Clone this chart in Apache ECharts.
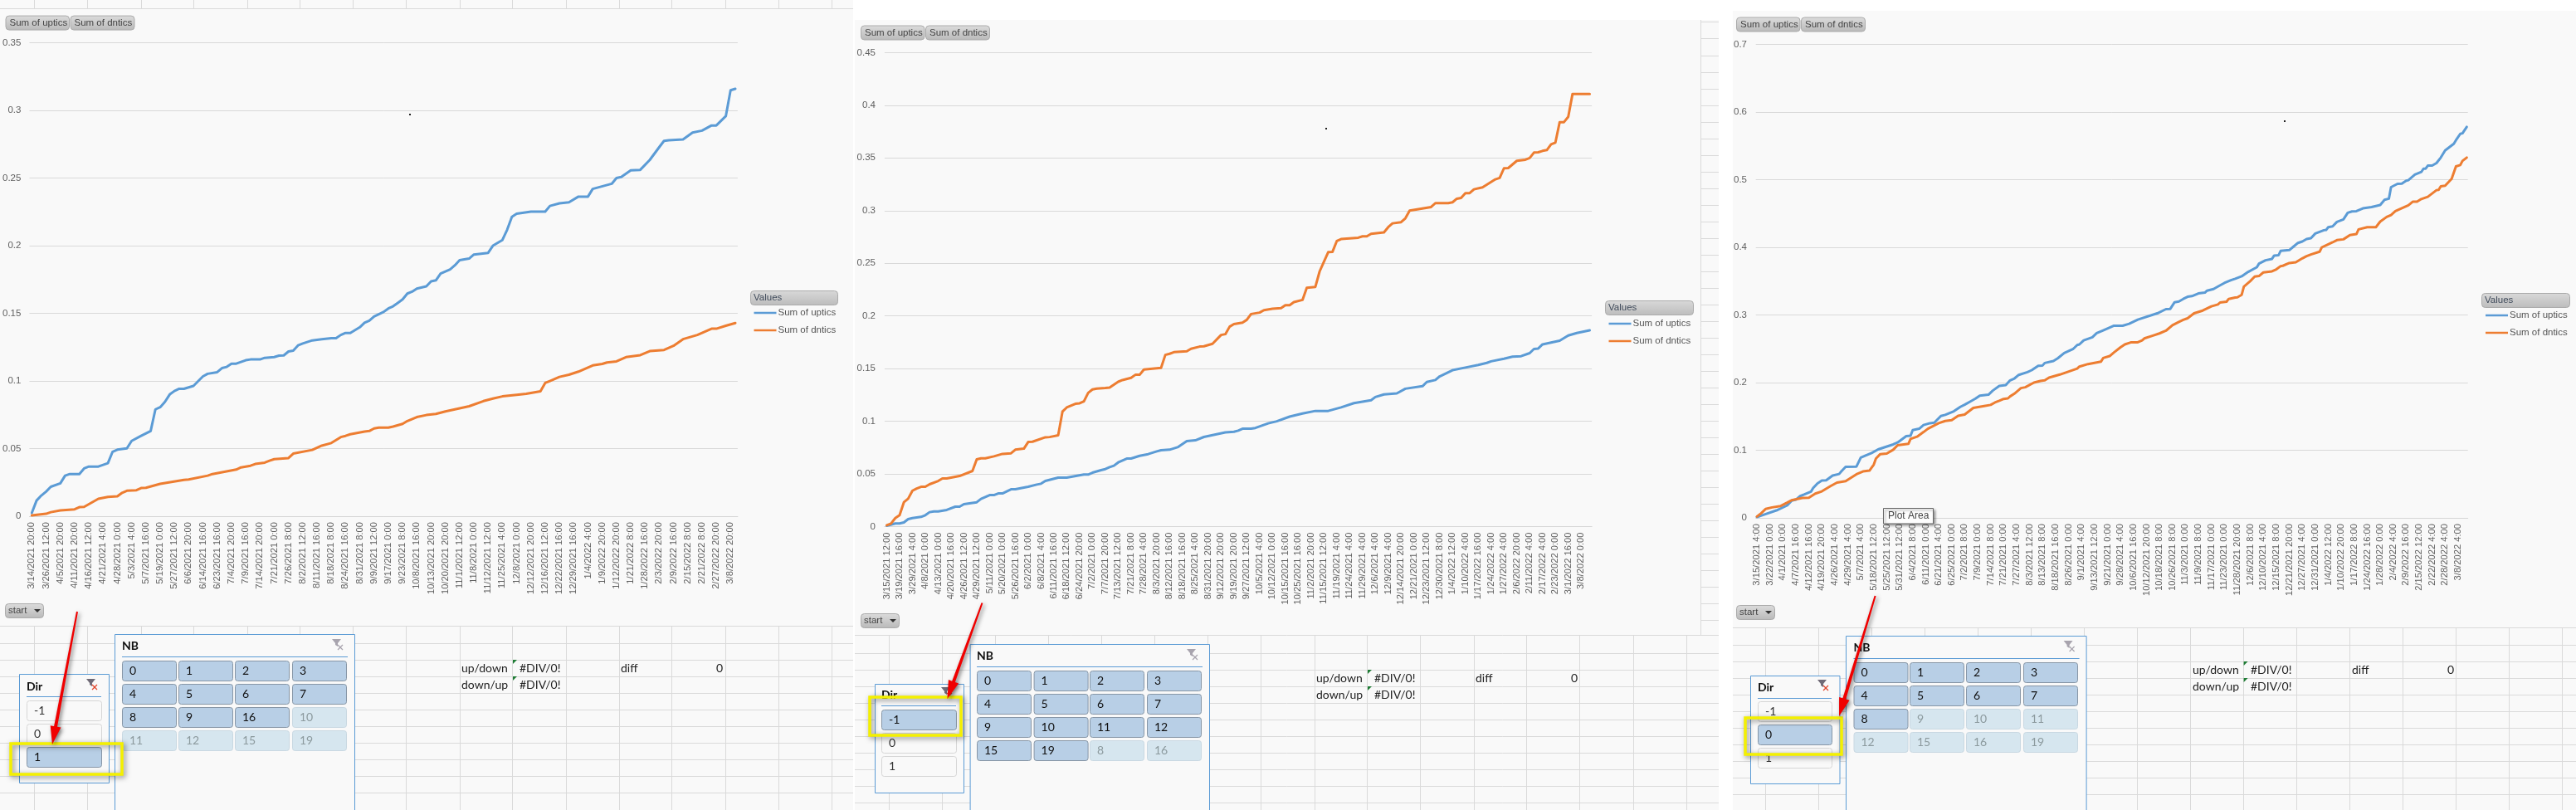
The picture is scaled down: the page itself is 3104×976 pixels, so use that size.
<!DOCTYPE html>
<html><head><meta charset="utf-8">
<style>html,body{margin:0;padding:0;background:#fff}#c{width:3104px;height:976px}</style>
<script src="https://cdn.jsdelivr.net/npm/echarts@6/dist/echarts.min.js"></script>
</head><body><div id="c"></div>
<script>
// ---------- DATA: tick labels (one every few categories) ----------
const ticks1 = ["3/14/2021 20:00","3/26/2021 12:00","4/5/2021 20:00","4/11/2021 20:00","4/16/2021 12:00","4/21/2021 4:00","4/28/2021 0:00","5/3/2021 4:00","5/7/2021 16:00","5/19/2021 0:00","5/27/2021 12:00","6/6/2021 20:00","6/14/2021 16:00","6/23/2021 16:00","7/4/2021 20:00","7/9/2021 16:00","7/14/2021 20:00","7/21/2021 0:00","7/26/2021 8:00","8/2/2021 12:00","8/11/2021 16:00","8/18/2021 8:00","8/24/2021 16:00","8/31/2021 8:00","9/9/2021 12:00","9/17/2021 0:00","9/23/2021 8:00","10/8/2021 16:00","10/13/2021 20:00","10/20/2021 20:00","11/1/2021 12:00","11/8/2021 0:00","11/12/2021 12:00","11/25/2021 4:00","12/8/2021 0:00","12/12/2021 20:00","12/16/2021 12:00","12/22/2021 16:00","12/29/2021 16:00","1/4/2022 4:00","1/9/2022 20:00","1/12/2022 20:00","1/21/2022 8:00","1/28/2022 16:00","2/3/2022 20:00","2/9/2022 16:00","2/15/2022 8:00","2/21/2022 8:00","2/27/2022 20:00","3/8/2022 20:00"];
const ticks2 = ["3/15/2021 12:00","3/19/2021 16:00","3/29/2021 4:00","4/8/2021 0:00","4/13/2021 0:00","4/20/2021 16:00","4/26/2021 12:00","4/29/2021 12:00","5/11/2021 0:00","5/20/2021 0:00","5/26/2021 16:00","6/2/2021 0:00","6/8/2021 4:00","6/11/2021 16:00","6/18/2021 12:00","6/24/2021 20:00","7/2/2021 0:00","7/7/2021 20:00","7/13/2021 12:00","7/21/2021 8:00","7/28/2021 4:00","8/3/2021 20:00","8/12/2021 16:00","8/18/2021 16:00","8/25/2021 4:00","8/31/2021 20:00","9/12/2021 20:00","9/19/2021 20:00","9/27/2021 12:00","10/5/2021 4:00","10/12/2021 0:00","10/15/2021 16:00","10/25/2021 16:00","11/2/2021 20:00","11/15/2021 12:00","11/19/2021 4:00","11/24/2021 4:00","11/29/2021 4:00","12/6/2021 4:00","12/9/2021 4:00","12/14/2021 20:00","12/21/2021 0:00","12/23/2021 12:00","12/30/2021 8:00","1/4/2022 12:00","1/10/2022 4:00","1/17/2022 16:00","1/24/2022 4:00","1/27/2022 4:00","2/6/2022 20:00","2/11/2022 4:00","2/17/2022 4:00","2/23/2022 0:00","3/1/2022 16:00","3/8/2022 0:00"];
const ticks3 = ["3/15/2021 4:00","3/22/2021 0:00","4/1/2021 0:00","4/7/2021 16:00","4/12/2021 16:00","4/19/2021 20:00","4/26/2021 4:00","4/29/2021 4:00","5/7/2021 4:00","5/18/2021 12:00","5/25/2021 12:00","5/31/2021 12:00","6/4/2021 8:00","6/11/2021 0:00","6/21/2021 4:00","6/25/2021 0:00","7/2/2021 8:00","7/9/2021 0:00","7/14/2021 8:00","7/21/2021 0:00","7/27/2021 4:00","8/3/2021 12:00","8/13/2021 8:00","8/18/2021 16:00","8/26/2021 0:00","9/1/2021 4:00","9/13/2021 12:00","9/21/2021 0:00","9/28/2021 4:00","10/6/2021 16:00","10/12/2021 20:00","10/18/2021 8:00","10/26/2021 8:00","11/3/2021 0:00","11/9/2021 8:00","11/17/2021 0:00","11/23/2021 0:00","11/28/2021 20:00","12/6/2021 8:00","12/10/2021 4:00","12/15/2021 8:00","12/21/2021 20:00","12/27/2021 4:00","12/31/2021 0:00","1/4/2022 12:00","1/10/2022 20:00","1/17/2022 8:00","1/24/2022 16:00","1/28/2022 0:00","2/4/2022 4:00","2/9/2022 16:00","2/15/2022 12:00","2/22/2022 4:00","2/28/2022 4:00","3/8/2022 4:00"];

// ---------- DATA: traced series, as [category number, value] ----------
const up1 = [[0,.0024],[1,.0116],[2,.0153],[3,.0182],[4,.0218],[6,.0243],[7,.030],[8,.0312],[10,.0312],[11,.0353],[12,.0367],[14,.0367],[16,.0392],[17,.0477],[18,.0492],[20,.0502],[21,.0557],[23,.0594],[25,.063],[26,.079],[27,.0806],[28,.0845],[29,.09],[30,.0926],[31,.0942],[32,.0942],[34,.0963],[36,.1034],[37,.1053],[39,.1065],[40,.1095],[41,.1104],[42,.1128],[43,.1128],[45,.1153],[46,.1159],[48,.1159],[49,.1171],[51,.1177],[52,.1187],[53,.1189],[54,.1218],[55,.1224],[56,.1263],[57,.1277],[59,.13],[61,.1308],[63,.1316],[64,.1316],[65,.134],[66,.1355],[67,.1355],[69,.1397],[70,.143],[71,.1446],[72,.1477],[74,.151],[75,.1536],[76,.1552],[77,.1577],[78,.1603],[79,.1646],[80,.166],[81,.1683],[83,.170],[84,.1737],[85,.1744],[86,.1794],[88,.1825],[89,.1855],[90,.1893],[92,.1905],[93,.1935],[96,.1947],[97,.20],[99,.2042],[100,.2118],[101,.2214],[102,.2237],[105,.2252],[108,.2252],[109,.2294],[111,.2313],[113,.2321],[115,.2363],[117,.2363],[118,.242],[122,.2458],[123,.25],[124,.2508],[126,.2557],[128,.2561],[130,.2634],[132,.2729],[133,.2775],[134,.2779],[137,.2786],[139,.2836],[141,.2851],[143,.2889],[144,.2889],[146,.2958],[147,.3149],[148,.316]];
const dn1 = [[0,.0006],[3,.0018],[4,.003],[6,.0043],[9,.0051],[10,.0067],[11,.0069],[14,.0129],[16,.0143],[18,.0147],[19,.0173],[20,.0188],[22,.0192],[23,.0208],[24,.021],[27,.0239],[32,.0269],[33,.0271],[37,.03],[38,.0312],[43,.0345],[44,.0361],[46,.0373],[47,.0386],[49,.0396],[50,.041],[51,.0422],[54,.043],[55,.0463],[59,.049],[61,.0522],[63,.0541],[65,.0585],[66,.0594],[67,.0606],[70,.0626],[71,.063],[72,.0649],[73,.0655],[75,.0655],[76,.0663],[78,.0683],[79,.0704],[81,.0733],[83,.0748],[85,.0756],[87,.0775],[89,.079],[92,.0813],[95,.0851],[97,.087],[99,.0886],[102,.0897],[104,.0905],[107,.0924],[108,.0985],[109,.1],[111,.103],[113,.1046],[115,.1069],[118,.1115],[120,.1126],[121,.1137],[123,.1145],[125,.1176],[128,.1191],[130,.1221],[133,.1229],[135,.126],[137,.1309],[140,.134],[141,.1355],[143,.1386],[144,.1386],[146,.1408],[148,.1428]];
const up2 = [[0,.0008],[2,.0029],[3,.0029],[4,.0039],[5,.0071],[6,.0081],[8,.0092],[9,.0108],[10,.0137],[11,.0144],[12,.0144],[14,.0158],[16,.0189],[17,.0189],[18,.0213],[21,.0231],[22,.0263],[24,.0299],[25,.0299],[26,.0315],[27,.0315],[29,.0354],[30,.0354],[33,.0378],[35,.0399],[36,.0407],[37,.0433],[40,.0465],[42,.0465],[46,.0494],[47,.0494],[48,.0512],[50,.0536],[51,.0546],[52,.0564],[53,.0578],[54,.0609],[56,.0646],[57,.0646],[59,.0672],[61,.0688],[63,.0714],[64,.0725],[66,.073],[68,.0756],[70,.0811],[71,.0816],[72,.0819],[74,.0851],[79,.0895],[81,.09],[82,.0911],[83,.0929],[85,.0929],[86,.0936],[89,.098],[91,.1],[94,.1044],[97,.1074],[100,.1098],[103,.1098],[106,.1132],[109,.1172],[113,.12],[114,.123],[116,.1255],[119,.1265],[121,.1309],[125,.1333],[126,.1373],[128,.1392],[129,.1426],[132,.1485],[135,.151],[138,.1534],[140,.1554],[141,.1569],[144,.1593],[146,.1613],[148,.1618],[150,.1647],[151,.1686],[152,.1691],[153,.173],[157,.1765],[159,.1814],[161,.1838],[164,.1863]];
const dn2 = [[0,.0013],[1,.0029],[2,.0081],[3,.0108],[4,.0231],[5,.0265],[6,.0341],[7,.0362],[8,.0378],[9,.0378],[10,.0402],[12,.0433],[13,.0457],[14,.0457],[17,.048],[20,.0528],[21,.0638],[22,.0648],[23,.0648],[25,.0667],[27,.069],[29,.0696],[30,.073],[32,.074],[33,.0803],[34,.0806],[37,.0848],[38,.085],[40,.0866],[41,.1092],[42,.1131],[44,.1166],[45,.1171],[46,.1189],[47,.127],[48,.1302],[49,.131],[51,.1315],[52,.132],[54,.1375],[55,.1391],[57,.1412],[58,.1441],[59,.1441],[60,.1491],[62,.1499],[64,.1507],[65,.163],[66,.1641],[67,.1656],[70,.1664],[71,.1688],[73,.1709],[74,.1712],[76,.1735],[78,.1819],[79,.1827],[80,.1898],[81,.1922],[83,.1937],[84,.1963],[85,.2018],[87,.2032],[88,.2055],[90,.2068],[92,.2074],[93,.2102],[94,.2102],[95,.2131],[97,.2152],[98,.2268],[100,.2276],[101,.2423],[102,.2515],[103,.2606],[104,.2609],[105,.2711],[106,.273],[110,.2743],[111,.2756],[112,.2756],[113,.278],[116,.2793],[117,.2843],[118,.2879],[120,.289],[121,.2927],[122,.3],[127,.3034],[128,.3071],[131,.3071],[132,.3079],[133,.3113],[134,.3121],[135,.3166],[136,.3166],[137,.3202],[139,.3221],[142,.3297],[143,.331],[144,.3402],[145,.3404],[147,.3473],[149,.3483],[150,.3499],[151,.3551],[152,.3554],[153,.3567],[154,.3575],[155,.363],[156,.3646],[157,.384],[158,.384],[159,.389],[160,.4108],[164,.4108]];
const up3 = [[0,.0012],[3,.0045],[9,.011],[14,.0184],[16,.0253],[18,.0269],[20,.0322],[22,.0347],[25,.0388],[26,.0441],[28,.051],[30,.0551],[32,.0555],[35,.0625],[38,.0649],[39,.0686],[41,.0755],[46,.0759],[48,.089],[50,.0918],[53,.0959],[56,.1012],[63,.1086],[65,.1114],[69,.1208],[71,.1216],[72,.1298],[75,.1318],[77,.1372],[80,.14],[82,.1408],[85,.1506],[87,.1523],[91,.1576],[94,.1641],[96,.1674],[99,.1727],[101,.1763],[103,.1808],[107,.1821],[109,.1882],[112,.1951],[115,.1963],[117,.2033],[119,.2061],[121,.2114],[125,.2155],[127,.2184],[130,.2249],[132,.2253],[133,.229],[137,.2319],[139,.2359],[142,.2437],[146,.2494],[148,.2555],[149,.2564],[151,.2625],[155,.267],[157,.2731],[160,.2772],[165,.2841],[169,.2841],[172,.2869],[176,.2931],[185,.3024],[189,.3086],[191,.309],[193,.3188],[195,.32],[197,.3237],[199,.3269],[201,.3278],[204,.3318],[207,.3331],[208,.3359],[211,.3384],[213,.342],[216,.3473],[219,.3514],[221,.3535],[224,.3571],[227,.3637],[231,.3706],[232,.3759],[235,.3808],[238,.3829],[239,.3878],[241,.3882],[242,.3947],[246,.3959],[248,.4012],[250,.4065],[252,.4086],[254,.4122],[256,.4135],[258,.4204],[262,.4253],[263,.4257],[264,.4298],[266,.431],[268,.4376],[271,.4412],[273,.451],[275,.4531],[277,.4535],[280,.4576],[284,.4596],[288,.4625],[290,.4702],[292,.4719],[293,.489],[296,.4939],[298,.4943],[300,.4984],[301,.4992],[304,.5074],[307,.5114],[308,.5163],[309,.5163],[310,.5208],[312,.5208],[314,.5245],[316,.5327],[318,.5433],[322,.5531],[323,.5584],[325,.5678],[326,.5686],[328,.578]];
const dn3 = [[0,.002],[2,.0069],[4,.0131],[7,.0155],[11,.0176],[14,.0225],[16,.0261],[21,.0294],[24,.0298],[27,.0359],[30,.0392],[34,.0469],[37,.0522],[41,.0543],[46,.0645],[49,.0686],[52,.0698],[54,.0788],[55,.0878],[57,.0943],[60,.0951],[63,.1008],[65,.1074],[70,.1094],[71,.1167],[74,.12],[77,.1269],[79,.1318],[84,.14],[87,.1433],[90,.1445],[93,.151],[96,.1527],[98,.1576],[100,.1625],[105,.1653],[108,.167],[110,.1706],[112,.1731],[114,.1759],[116,.1767],[117,.1796],[119,.1837],[122,.1919],[124,.1931],[128,.2],[131,.2025],[133,.2033],[135,.2074],[140,.2119],[148,.2208],[149,.2237],[153,.2274],[159,.2311],[160,.2363],[163,.2392],[165,.2447],[168,.2522],[170,.2565],[173,.2596],[176,.2596],[178,.2624],[179,.2653],[183,.2694],[186,.2727],[189,.2767],[192,.2849],[195,.2898],[197,.2927],[199,.2951],[202,.3024],[206,.3065],[210,.3127],[213,.3155],[214,.3184],[217,.3196],[218,.3237],[221,.3257],[222,.3261],[224,.3298],[225,.342],[228,.3502],[230,.3567],[232,.3576],[234,.3629],[238,.3645],[240,.3674],[242,.3722],[243,.3727],[246,.3767],[249,.378],[252,.3837],[254,.3869],[256,.3894],[260,.3935],[261,.4],[263,.4029],[266,.4074],[268,.4106],[271,.4118],[274,.418],[277,.4196],[278,.4265],[282,.4298],[286,.4298],[288,.438],[291,.4449],[293,.4478],[295,.4535],[301,.4621],[303,.4674],[305,.4674],[307,.4714],[310,.4747],[312,.4796],[314,.4845],[315,.4849],[316,.4902],[318,.491],[321,.5012],[323,.5196],[325,.5216],[326,.5278],[328,.5327]];

// ---------- DATA: slicer contents ----------
const dirItems = ["-1","0","1"];
const nbItems1 = ["0","1","2","3","4","5","6","7","8","9","16","10","11","12","15","19"];
const nbActive1 = 11;
const nbItems2 = ["0","1","2","3","4","5","6","7","9","10","11","12","15","19","8","16"];
const nbActive2 = 14;
const nbItems3 = ["0","1","2","3","4","5","6","7","8","9","10","11","12","15","16","19"];
const nbActive3 = 9;
const seriesNames = ["Sum of uptics","Sum of dntics"];
const C_UP = "#5b9bd5", C_DN = "#ed7d31";

// ---------- LAYOUT ----------
const FONT = '"Liberation Sans"', SFONT = 'Lato';
const panels = [
 {ticks:ticks1,up:up1,dn:dn1,perTick:3,n:149,left:35.1,width:853.8,top:51.6,bottom:622,ymax:.35,step:.05,yLabelEnd:25,
  sumBtn:[6.5,18.6],startBtn:[6,727],legendBox:[904,350,105],swatch:[908.5,371],
  dot:[493,137],dir:{box:[23,812,108,131],titleY:827,ul:839,x:32,w:90,rows:[844,872,900],sel:2},
  nb:{box:[138,764,289],titleY:778,ul:791,cols:[147,215,283,352],w:65,rows:[796,824,852,880],items:nbItems1,active:nbActive1},
  yellow:[13,896,134,37],arrow:[[93,737],[63,897]],
  txt:{x1:556,x2:626,x3:748,x4:871,y1:805,y2:825,tri:618},
  hl:[10,754,774.5,794.5,815,835,855,875,895,915,935,955],vl:[41,105,170,233,298,361,425,489,554,617,682,746,809,874,938,1002],xr:1028},
 {ticks:ticks2,up:up2,dn:dn2,perTick:3,n:165,left:1065.9,width:852.2,top:63.4,bottom:634.5,ymax:.45,step:.05,yLabelEnd:1055,
  sumBtn:[1037,30.5],startBtn:[1037,739],legendBox:[1934,362,106],swatch:[1938.5,384],
  dot:[1597,154],dir:{box:[1054,824,107,131],titleY:837,ul:850,x:1062,w:90,rows:[855,883,911],sel:0},
  nb:{box:[1168.6,776,288.4],titleY:790,ul:803,cols:[1177,1245.6,1313,1382],w:65,rows:[808,836,864,892],items:nbItems2,active:nbActive2},
  yellow:[1048,840,110,46],arrow:[[1183.5,726.5],[1141.5,842]],
  txt:{x1:1586,x2:1656,x3:1778,x4:1901,y1:817,y2:837,tri:1648},
  hl:[765,787,807,827,847,867,887,907,927,947,967],vl:[1071,1135,1199,1263,1327,1391,1455,1519,1584,1647,1711,1776,1839,1903,1968,2032],xr:2071},
 {ticks:ticks3,up:up3,dn:dn3,perTick:6,n:329,left:2115.7,width:858,top:53.5,bottom:624,ymax:.7,step:.1,yLabelEnd:2105,
  sumBtn:[2092,20.5],startBtn:[2092,729],legendBox:[2990,353,106],swatch:[2995,374],
  dot:[2752,145],dir:{box:[2109,814,107.5,130],titleY:828,ul:841,x:2118,w:89,rows:[845,873,901],sel:1},
  nb:{box:[2224,766,289.6],titleY:780,ul:793,cols:[2233.5,2301,2369,2438],w:65,rows:[798,826,854,882],items:nbItems3,active:nbActive3},
  yellow:[2103,865,116,44],arrow:[[2259.6,718],[2216,863]],
  txt:{x1:2642,x2:2712,x3:2834,x4:2957,y1:807,y2:827,tri:2703.6},
  hl:[756,777,797,817,837,857,877,897,917,937,957],vl:[2127,2191,2255,2319,2383,2447,2511,2575,2639,2703,2767,2831,2895,2959,3023,3087],xr:3104},
];

// ---------- graphic helpers ----------
const G = echarts.graphic;
const grad = (a,b)=>new G.LinearGradient(0,0,0,1,[{offset:0,color:a},{offset:1,color:b}]);
const rect=(x,y,w,h,style,r,z)=>({type:'rect',silent:true,z:z,shape:{x,y,width:w,height:h,r:r||0},style});
const line=(x1,y1,x2,y2,stroke,w,z)=>({type:'line',silent:true,z:z,shape:{x1,y1,x2,y2},style:{stroke,lineWidth:w||1}});
const text=(x,y,s,o,z)=>({type:'text',silent:true,z:z,x,y,style:Object.assign({text:s,fontFamily:FONT,fontSize:12,fill:'#444',align:'left',verticalAlign:'middle'},o||{})});
const poly=(pts,style,z)=>({type:'polygon',silent:true,z:z,shape:{points:pts},style});

const BG='#f9f9f9', CELL='#dadada', SB='#5b9bd5';
let els=[];
// page backgrounds
els.push(rect(0,0,1028,976,{fill:BG},0,-20));
els.push(rect(1030,24,1041,952,{fill:BG},0,-20));
els.push(rect(2088,13,1016,963,{fill:BG},0,-20));

function toggleBtn(x,y,w,h,label,state,z){
  const st={sel:{fill:'#b8cfe6',stroke:'#8796a6',color:'#111'},on:{fill:'#b8cfe6',stroke:'#8796a6',color:'#111'},
            off:{fill:'#f9f9f9',stroke:'#d6d6d6',color:'#333'},dis:{fill:'#d6e6ef',stroke:'#c9d8e2',color:'#8c9a9e'}}[state];
  els.push(rect(x+.5,y+.5,w,h,{fill:st.fill,stroke:st.stroke,lineWidth:1},3,z));
  els.push(text(x+9,y+h/2+.5,label,{fontFamily:SFONT,fontSize:14,fill:st.color},z+1));
}
function funnel(x,y,col,xcol,z){
  els.push(poly([[x,y],[x+11,y],[x+7,y+5],[x+7,y+9],[x+4,y+7],[x+4,y+5]],{fill:col},z));
  els.push(line(x+7,y+7,x+13,y+13,xcol,1.2,z));
  els.push(line(x+13,y+7,x+7,y+13,xcol,1.2,z));
}
function fieldBtn(x,y,w,h,label){
  els.push(rect(x+.5,y+.5,w,h,{fill:grad('#dcdcdc','#b9b9b9'),stroke:'#ababab',lineWidth:1},4,5));
  els.push(text(x+5,y+h/2+.5,label,{fontSize:11.5,fill:'#444'},6));
}
function arrow(p0,p1,z){
  const dx=p1[0]-p0[0],dy=p1[1]-p0[1],L=Math.hypot(dx,dy),ux=dx/L,uy=dy/L,nx=-uy,ny=ux;
  const hl=22,hw=6.5,neck=[p1[0]-ux*hl,p1[1]-uy*hl];
  const P=(b,n)=>[b[0]+nx*n,b[1]+ny*n];
  els.push(poly([P(p0,1),P(neck,2),P(neck,hw),p1,P(neck,-hw),P(neck,-2),P(p0,-1)],
    {fill:'#f00000',shadowBlur:5,shadowColor:'rgba(0,0,0,.55)',shadowOffsetX:2,shadowOffsetY:2},z));
}

panels.forEach((p,i)=>{
  // worksheet cells
  const x0=i==0?0:(i==1?1030:2088);
  const top=p.hl[0];
  p.hl.forEach(y=>els.push(line(x0,Math.round(y)+.5,p.xr,Math.round(y)+.5,CELL,1,-10)));
  p.vl.forEach(x=>els.push(line(Math.round(x)+.5,i==0?p.hl[1]:top,Math.round(x)+.5,976,CELL,1,-10)));
  if(i==0){ p.vl.forEach(x=>els.push(line(Math.round(x)+.5,0,Math.round(x)+.5,10,CELL,1,-10))); }
  if(i==1){ els.push(line(2049.5,24,2049.5,765,CELL,1,-10));
    [26,46,67,87,107,127,147,167,187,207,227,247,267,287,307,327,347,367,387,407,427,447,467,487,507,527,547,567,587,607,627,647,667,687,707,727,747].forEach(y=>els.push(line(2050,y+.5,2071,y+.5,CELL,1,-10))); }
  // field buttons
  fieldBtn(p.sumBtn[0],p.sumBtn[1],76.5,17,'Sum of uptics');
  fieldBtn(p.sumBtn[0]+78,p.sumBtn[1],77,17,'Sum of dntics');
  // start button
  const s=p.startBtn;
  els.push(rect(s[0]+.5,s[1]+.5,46,17,{fill:grad('#dcdcdc','#b9b9b9'),stroke:'#ababab',lineWidth:1},4,5));
  els.push(text(s[0]+4,s[1]+9,'start',{fontSize:11.5,fill:'#444'},6));
  els.push(poly([[s[0]+35,s[1]+7],[s[0]+43,s[1]+7],[s[0]+39,s[1]+11]],{fill:'#333'},6));
  // legend header
  const b=p.legendBox;
  els.push(rect(b[0]+.5,b[1]+.5,b[2],17,{fill:grad('#d9d9d9','#bcbcbc'),stroke:'#ababab',lineWidth:1},4,5));
  els.push(text(b[0]+4,b[1]+9,'Values',{fontSize:11.5,fill:'#3f4a5a'},6));
  // stray dot
  els.push(rect(p.dot[0],p.dot[1],2,2,{fill:'#222'},0,7));
  // cell texts
  const t=p.txt, cf={fontFamily:SFONT,fontSize:14,fill:'#222'};
  els.push(text(t.x1,t.y1,'up/down',cf,4)); els.push(text(t.x1,t.y2,'down/up',cf,4));
  els.push(text(t.x2,t.y1,'#DIV/0!',cf,4)); els.push(text(t.x2,t.y2,'#DIV/0!',cf,4));
  els.push(text(t.x3,t.y1,'diff',cf,4));
  els.push(text(t.x4,t.y1,'0',Object.assign({},cf,{align:'right'}),4));
  [t.y1,t.y2].forEach(y=>els.push(poly([[t.tri,y-10],[t.tri+5,y-10],[t.tri,y-5]],{fill:'#1e7b34'},4)));
  // NB slicer
  const n=p.nb;
  els.push(rect(n.box[0]+.5,n.box[1]+.5,n.box[2],240,{fill:BG,stroke:SB,lineWidth:1},0,8));
  els.push(text(n.cols[0],n.titleY,'NB',{fontFamily:SFONT,fontSize:14,fontWeight:'bold',fill:'#111'},9));
  els.push(line(n.cols[0],n.ul+.5,n.box[0]+n.box[2]-8,n.ul+.5,SB,1,9));
  funnel(n.box[0]+n.box[2]-27,n.box[1]+6,'#a8a4ae','#a8a4ae',9);
  n.items.forEach((lab,k)=>toggleBtn(n.cols[k%4],n.rows[Math.floor(k/4)],n.w,24,lab,k<n.active?'on':'dis',9));
  // Dir slicer
  const d=p.dir;
  els.push(rect(d.box[0]+.5,d.box[1]+.5,d.box[2],d.box[3],{fill:BG,stroke:SB,lineWidth:1},0,8));
  els.push(text(d.x,d.titleY,'Dir',{fontFamily:SFONT,fontSize:14,fontWeight:'bold',fill:'#111'},9));
  els.push(line(d.x,d.ul+.5,d.x+d.w,d.ul+.5,SB,1,9));
  funnel(d.x+72,d.titleY-9,'#6f6a76','#e0452c',9);
  dirItems.forEach((lab,k)=>toggleBtn(d.x,d.rows[k],d.w,24,lab,k==d.sel?'sel':'off',9));
  // annotation
  const y=p.yellow;
  els.push(rect(y[0],y[1],y[2],y[3],{fill:'none',stroke:'#f4f000',lineWidth:3.5,shadowBlur:6,shadowColor:'rgba(0,0,0,.5)',shadowOffsetX:2,shadowOffsetY:2},0,20));
  arrow(p.arrow[0],p.arrow[1],21);
});
// "Plot Area" hover tip on the third chart
els.push(rect(2269.5,612.5,60,18.5,{fill:'#fdfdfd',stroke:'#666',lineWidth:1,shadowBlur:3,shadowColor:'rgba(0,0,0,.4)',shadowOffsetX:2,shadowOffsetY:2},0,30));
els.push(text(2275,622,'Plot Area',{fontSize:12,fill:'#444'},31));

// ---------- option ----------
const axisFont={fontFamily:FONT,fontSize:11.2,color:'#5f5f5f'};
const slotsOf=p=>{const a=[];for(let i=0;i<p.n;i++){const q=i/p.perTick;a.push(Number.isInteger(q)&&q<p.ticks.length?p.ticks[q]:' ');}return a;};
const option={
  animation:false,backgroundColor:'#ffffff',
  grid:panels.map(p=>({left:p.left,width:p.width,top:p.top,height:p.bottom-p.top,containLabel:false})),
  xAxis:panels.map((p,i)=>({type:'category',gridIndex:i,boundaryGap:true,data:slotsOf(p),
    axisTick:{show:false},axisLine:{lineStyle:{color:'#d6d6d6',width:1}},
    axisLabel:Object.assign({},axisFont,{interval:p.perTick-1,rotate:90,margin:7,hideOverlap:false}),
    splitLine:{show:false}})),
  yAxis:panels.map((p,i)=>({type:'value',gridIndex:i,min:0,max:p.ymax,interval:p.step,
    axisLine:{show:false},axisTick:{show:false},
    axisLabel:Object.assign({},axisFont,{fontSize:11.5,margin:p.left-p.yLabelEnd,padding:[0,0,4,0],align:'right'}),
    splitLine:{show:true,lineStyle:{color:'#d9d9d9',width:1}}})),
  legend:panels.map(p=>({data:seriesNames,orient:'vertical',left:p.swatch[0],top:p.swatch[1],padding:0,itemGap:9,
    icon:'rect',itemWidth:27,itemHeight:2.5,selectedMode:false,textStyle:{fontFamily:FONT,fontSize:11.5,color:'#555',padding:[0,0,0,-3]}})),
  graphic:{elements:els},
  series:panels.flatMap((p,i)=>[
    {name:seriesNames[0],data:p.up,color:C_UP},
    {name:seriesNames[1],data:p.dn,color:C_DN}
  ].map(s=>Object.assign(s,{type:'line',xAxisIndex:i,yAxisIndex:i,showSymbol:false,symbol:'none',silent:true,smooth:false,
     lineStyle:{width:3,color:s.color,cap:'round',join:'round'},itemStyle:{color:s.color}})))
};
const chart=echarts.init(document.getElementById('c'),null,{width:3104,height:976});
chart.setOption(option);
</script></body></html>
